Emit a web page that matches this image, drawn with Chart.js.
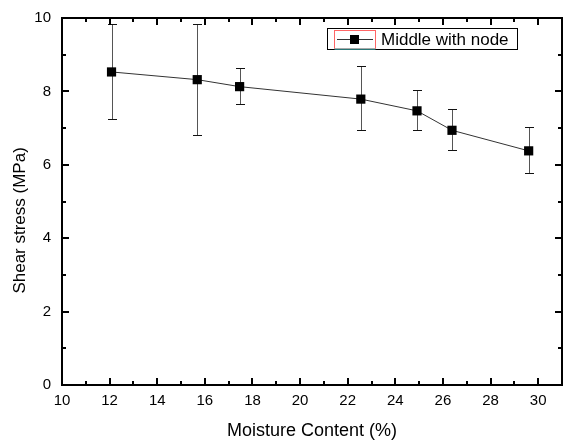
<!DOCTYPE html>
<html>
<head>
<meta charset="utf-8">
<script src="https://cdn.jsdelivr.net/npm/chart.js@4.4.0/dist/chart.umd.min.js"></script>
<style>
  html, body { margin: 0; padding: 0; background: #fff; }
  #chart { display: block; }
</style>
</head>
<body>
<canvas id="chart" width="563" height="444"></canvas>
<script>
const seriesName = "Middle with node"
const moisture = [12.08, 15.68, 17.46, 22.55, 24.91, 26.38, 29.60]
const shearStress = [8.53, 8.32, 8.13, 7.79, 7.47, 6.94, 6.38]
const errorUpper = [9.83, 9.83, 8.65, 8.69, 8.03, 7.51, 7.03]
const errorLower = [7.25, 6.80, 7.66, 6.94, 6.96, 6.40, 5.78]
const xTickLabels = [10, 12, 14, 16, 18, 20, 22, 24, 26, 28, 30]
const yTickLabels = [0, 2, 4, 6, 8, 10]

const fontFamily = "'Liberation Sans', Arial, sans-serif"

const errorBars = {
  id: "errorBars",
  beforeDatasetsDraw(chart) {
    const ctx = chart.ctx
    const x = chart.scales.x, y = chart.scales.y
    ctx.save()
    ctx.lineWidth = 1
    moisture.forEach((m, i) => {
      const px = Math.round(x.getPixelForValue(m)) + 0.5
      const top = Math.round(y.getPixelForValue(errorUpper[i])) + 0.5
      const bottom = Math.round(y.getPixelForValue(errorLower[i])) + 0.5
      ctx.strokeStyle = "#555"
      ctx.beginPath()
      ctx.moveTo(px, top)
      ctx.lineTo(px, bottom)
      ctx.stroke()
      ctx.strokeStyle = "#111"
      ctx.beginPath()
      ctx.moveTo(px - 4.5, top)
      ctx.lineTo(px + 4.5, top)
      ctx.moveTo(px - 4.5, bottom)
      ctx.lineTo(px + 4.5, bottom)
      ctx.stroke()
    })
    ctx.restore()
  }
}

// box round the plot with inward ticks on all four sides
const frame = {
  id: "frame",
  afterDraw(chart) {
    const ctx = chart.ctx
    const area = chart.chartArea
    const x = chart.scales.x, y = chart.scales.y
    ctx.save()
    ctx.strokeStyle = "#000"
    ctx.lineWidth = 2
    ctx.strokeRect(area.left, area.top, area.right - area.left, area.bottom - area.top)
    ctx.beginPath()
    for (let v = x.min + 1; v < x.max; v++) {
      const px = Math.round(x.getPixelForValue(v))
      const len = xTickLabels.includes(v) ? 7 : 4
      ctx.moveTo(px, area.bottom)
      ctx.lineTo(px, area.bottom - len)
      ctx.moveTo(px, area.top)
      ctx.lineTo(px, area.top + len)
    }
    for (let v = y.min + 1; v < y.max; v++) {
      const py = Math.round(y.getPixelForValue(v))
      const len = yTickLabels.includes(v) ? 7 : 4
      ctx.moveTo(area.left, py)
      ctx.lineTo(area.left + len, py)
      ctx.moveTo(area.right, py)
      ctx.lineTo(area.right - len, py)
    }
    ctx.stroke()
    ctx.restore()
  }
}

const legendBox = {
  id: "legendBox",
  afterDraw(chart) {
    const ctx = chart.ctx
    const label = chart.data.datasets[0].label
    ctx.save()
    ctx.fillStyle = "#fff"
    ctx.fillRect(327, 28, 190, 21)
    ctx.strokeStyle = "#000"
    ctx.lineWidth = 1
    ctx.strokeRect(327.5, 28.5, 190, 21)
    ctx.strokeStyle = "#f66"
    ctx.strokeRect(334.5, 30.5, 41, 18)
    ctx.strokeStyle = "#5ee"
    ctx.beginPath()
    ctx.moveTo(334.5, 49)
    ctx.lineTo(375.5, 49)
    ctx.stroke()
    ctx.strokeStyle = "#333"
    ctx.beginPath()
    ctx.moveTo(337, 39.5)
    ctx.lineTo(373, 39.5)
    ctx.stroke()
    ctx.fillStyle = "#000"
    ctx.fillRect(350, 35, 9, 9)
    ctx.font = "17px " + fontFamily
    ctx.textBaseline = "middle"
    ctx.fillText(label, 381, 40)
    ctx.restore()
  }
}

new Chart(document.getElementById("chart").getContext("2d"), {
  type: "line",
  data: {
    datasets: [{
      label: seriesName,
      data: moisture.map((m, i) => ({ x: m, y: shearStress[i] })),
      borderColor: "#333",
      borderWidth: 1,
      pointStyle: "rect",
      pointRadius: 6.5,
      pointBackgroundColor: "#000",
      pointBorderColor: "#000",
      pointBorderWidth: 0,
      tension: 0
    }]
  },
  options: {
    responsive: false,
    animation: false,
    layout: { autoPadding: false, padding: { top: 18, right: 1, left: 0, bottom: 0 } },
    plugins: {
      legend: { display: false },
      tooltip: { enabled: false }
    },
    scales: {
      x: {
        type: "linear",
        min: 10,
        max: 31,
        afterBuildTicks: scale => { scale.ticks = xTickLabels.map(v => ({ value: v })) },
        afterFit: scale => {
          scale.height = 59
          scale.paddingLeft = 0
          scale.paddingRight = 0
        },
        grid: { display: false, drawTicks: false },
        border: { display: false },
        ticks: { autoSkip: false, maxRotation: 0, padding: 7, color: "#000", font: { family: fontFamily, size: 15 } },
        title: {
          display: true,
          text: "Moisture Content (%)",
          color: "#000",
          font: { family: fontFamily, size: 18 },
          padding: { top: 0, bottom: 2 }
        }
      },
      y: {
        type: "linear",
        min: 0,
        max: 10,
        afterBuildTicks: scale => { scale.ticks = yTickLabels.map(v => ({ value: v })) },
        afterFit: scale => {
          scale.width = 62
          scale.paddingTop = 0
          scale.paddingBottom = 0
        },
        grid: { display: false, drawTicks: false },
        border: { display: false },
        ticks: { autoSkip: false, padding: 11, color: "#000", font: { family: fontFamily, size: 15 } },
        title: {
          display: true,
          // trailing spaces push the title a little lower, as in the original
          text: "Shear stress (MPa)        ",
          color: "#000",
          font: { family: fontFamily, size: 17 },
          padding: { top: 10, bottom: 0 }
        }
      }
    }
  },
  plugins: [errorBars, frame, legendBox]
})
</script>
</body>
</html>
